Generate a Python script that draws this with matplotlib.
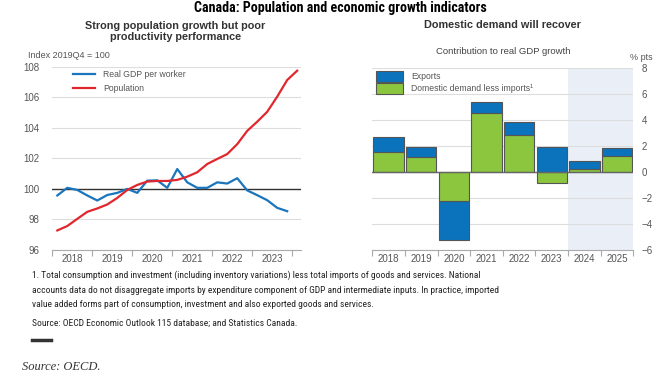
import numpy as np
import matplotlib
matplotlib.use("Agg")
import matplotlib.pyplot as plt
from matplotlib.patches import Patch
from matplotlib.lines import Line2D

# ---- data ----
gdp_worker = [99.57, 100.07, 99.93, 99.57, 99.24, 99.60, 99.74, 100.00,
              99.74, 100.54, 100.56, 100.07, 101.30, 100.43, 100.07, 100.07,
              100.43, 100.35, 100.70, 99.90, 99.59, 99.26, 98.76, 98.54]
population = [97.28, 97.57, 98.04, 98.50, 98.72, 98.98, 99.41, 99.93,
              100.26, 100.48, 100.52, 100.52, 100.59, 100.80, 101.09, 101.63,
              101.96, 102.28, 102.93, 103.80, 104.40, 105.05, 106.04, 107.13,
              107.74]
years_left = [2018, 2019, 2020, 2021, 2022, 2023]

years_right = ["2018", "2019", "2020", "2021", "2022", "2023", "2024", "2025"]
domestic = [1.55, 1.15, -2.22, 4.50, 2.80, -0.87, 0.23, 1.20]
exports = [1.17, 0.77, -2.96, 0.85, 1.00, 1.95, 0.62, 0.62]

BLUE = "#1a75bc"
RED = "#e1272d"
BAR_BLUE = "#0b73bb"
GREEN = "#8cc63f"
GRID = "#dddddd"
TXT = "#555555"

W, H = 670, 377
fig = plt.figure(figsize=(6.7, 3.77), dpi=100)


def box(x0, y0, x1, y1):
    return [x0 / W, 1 - y1 / H, (x1 - x0) / W, (y1 - y0) / H]


plt.rcParams['font.family'] = ['Liberation Sans', 'DejaVu Sans']

# ---- left panel ----
ax = fig.add_axes(box(52.3, 66.7, 301, 250))
q = np.arange(len(population))
xq = 2018 + (q + 0.5) / 4
ax.plot(xq[:len(gdp_worker)], gdp_worker, color=BLUE, lw=1.6, label="Real GDP per worker")
ax.plot(xq, population, color=RED, lw=1.6, label="Population")
ax.axhline(100, color="#333333", lw=1.0, zorder=1)
ax.set_ylim(96, 108)
ax.set_xlim(2018, 2024.22)
ax.set_yticks(range(96, 109, 2))
ax.yaxis.grid(True, color=GRID, lw=0.8)
ax.set_axisbelow(True)
for s in ["top", "right", "left"]:
    ax.spines[s].set_visible(False)
ax.spines["bottom"].set_color("#aaaaaa")
ax.set_xticks(range(2018, 2025))
ax.set_xticklabels([])
ax.set_xticks([y + 0.5 for y in years_left], minor=True)
ax.set_xticklabels([str(y) for y in years_left], minor=True)
ax.tick_params(axis="x", which="major", length=4, color="#aaaaaa")
ax.tick_params(axis="x", which="minor", length=0, labelsize=7, labelcolor=TXT, pad=3)
ax.tick_params(axis="y", length=0, labelsize=7, labelcolor=TXT, pad=9)
ax.legend(loc="upper left", bbox_to_anchor=(0.07, 1.0), frameon=False,
          fontsize=6.2, labelcolor=TXT, handlelength=2.5, borderaxespad=0,
          labelspacing=0.55, handletextpad=1.0)
fig.text(28 / W, 1 - 56 / H, "Index 2019Q4 = 100", fontsize=6.5, color=TXT, va="center")

# ---- right panel ----
ax2 = fig.add_axes(box(372.3, 67.7, 633.3, 250.2))
x = np.arange(len(years_right))
pos_dom = np.clip(domestic, 0, None)
neg_dom = np.clip(domestic, None, 0)
exp_bottom = [p if e >= 0 else n for p, n, e in zip(pos_dom, neg_dom, exports)]
ax2.axvspan(5.5, 7.5, color="#eaeff7", zorder=0, lw=0)
ax2.bar(x, domestic, width=0.93, color=GREEN, edgecolor="#555555", lw=0.8, zorder=2)
ax2.bar(x, exports, bottom=exp_bottom, width=0.93, color=BAR_BLUE, edgecolor="#555555",
        lw=0.8, zorder=2)
ax2.axhline(0, color="#666666", lw=1.0, zorder=3)
ax2.set_ylim(-6, 8)
ax2.set_xlim(-0.5, 7.5)
ax2.set_yticks(range(-6, 9, 2))
ax2.yaxis.tick_right()
ax2.yaxis.grid(True, color=GRID, lw=0.8)
ax2.set_axisbelow(True)
for s in ["top", "right", "left"]:
    ax2.spines[s].set_visible(False)
ax2.spines["bottom"].set_color("#aaaaaa")
ax2.set_xticks(np.arange(-0.5, 8, 1))
ax2.set_xticklabels([])
ax2.set_xticks(x, minor=True)
ax2.set_xticklabels(years_right, minor=True)
ax2.tick_params(axis="x", which="major", length=4, color="#aaaaaa")
ax2.tick_params(axis="x", which="minor", length=0, labelsize=7, labelcolor=TXT, pad=3)
ax2.tick_params(axis="y", length=0, labelsize=7, labelcolor=TXT, pad=6)
handles = [Patch(facecolor=BAR_BLUE, edgecolor="#555555", lw=0.8),
           Patch(facecolor=GREEN, edgecolor="#555555", lw=0.8)]
ax2.legend(handles, ["Exports", "Domestic demand less imports\u00b9"], loc="upper left",
           bbox_to_anchor=(0, 1.0), frameon=False, fontsize=6.2, labelcolor=TXT,
           handlelength=3.2, handleheight=1.5, borderaxespad=0, labelspacing=0.2,
           handletextpad=0.9)
fig.text(653 / W, 1 - 57 / H, "% pts", fontsize=6.5, color=TXT, ha="right", va="center")

# ---- titles ----
fig.text(340.5 / W, 1 - 8 / H, "Canada: Population and economic growth indicators",
         fontsize=10.1, fontweight="bold", family="Roboto Condensed", ha="center", va="center")
fig.text(175.5 / W, 1 - 31.5 / H, "Strong population growth but poor\nproductivity performance",
         fontsize=7.8, fontweight="bold", color="#333333", ha="center", va="center",
         linespacing=1.15)
fig.text(502.5 / W, 1 - 25 / H, "Domestic demand will recover", fontsize=7.8,
         fontweight="bold", color="#333333", ha="center", va="center")
fig.text(502.8 / W, 1 - 51.7 / H, "Contribution to real GDP growth", fontsize=6.8,
         color="#444444", ha="center", va="center")

# ---- notes ----
note = ("1. Total consumption and investment (including inventory variations) less total imports of goods and services. National\n"
        "accounts data do not disaggregate imports by expenditure component of GDP and intermediate inputs. In practice, imported\n"
        "value added forms part of consumption, investment and also exported goods and services.")
fig.text(32 / W, 1 - 270 / H, note, fontsize=6.8, family="Roboto Condensed", color="#222222",
         va="top", linespacing=1.85)
fig.text(32 / W, 1 - 323 / H, "Source: OECD Economic Outlook 115 database; and Statistics Canada.",
         fontsize=6.8, family="Roboto Condensed", color="#222222", va="center")
fig.add_artist(Line2D([32 / W, 51 / W], [1 - 340 / H] * 2, color="#333333", lw=2.5))
fig.text(22 / W, 1 - 367 / H, "Source: OECD.", fontsize=9, family="Liberation Serif",
         style="italic", color="#333333", va="center")

fig.savefig("out.png", dpi=100)
